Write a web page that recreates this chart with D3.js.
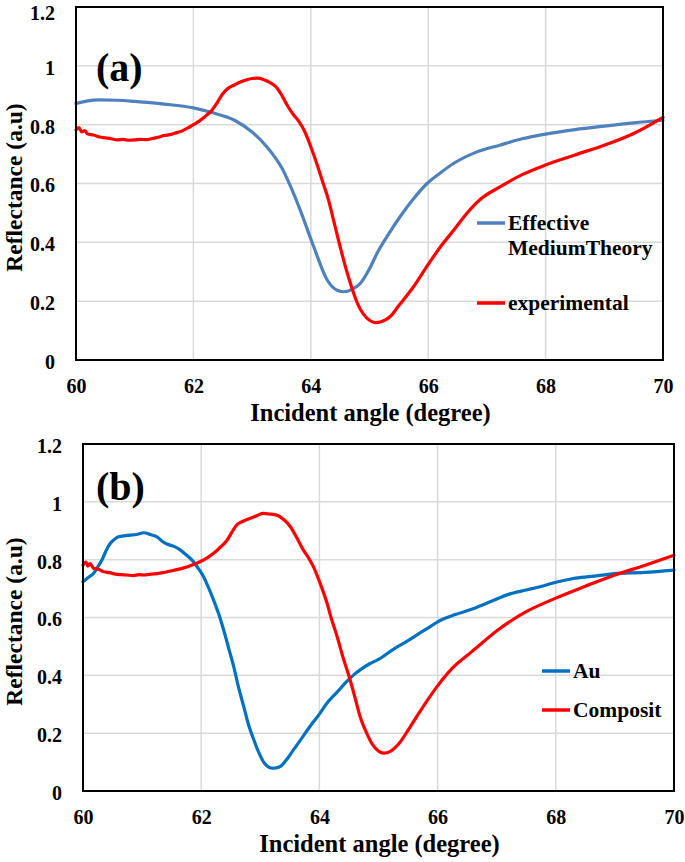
<!DOCTYPE html>
<html><head><meta charset="utf-8">
<script src="https://cdn.jsdelivr.net/npm/d3@7"></script>
<style>body{margin:0;background:#fff}svg{display:block}text{font-family:"Liberation Serif","Times New Roman",serif;font-weight:bold;fill:#000}</style>
</head><body><svg id="c" width="685" height="862"></svg>
<script>
// ---- data ----
const xTicks = [60, 62, 64, 66, 68, 70];
const yTicks = [0, 0.2, 0.4, 0.6, 0.8, 1, 1.2];
const xTitle = "Incident angle (degree)";
const yTitle = "Reflectance (a.u)";

// Panel (a)
const emtAngle = [60.0,60.2,60.4,60.7,61.0,61.5,62.0,62.3,62.7,63.0,63.25,63.5,63.8,64.05,64.28,64.45,64.56,64.7,64.85,65.0,65.13,65.3,65.52,65.75,65.98,66.2,66.43,66.8,67.23,67.6,68.0,68.5,69.0,69.5,70.0];
const emtRefl  = [0.872,0.881,0.884,0.883,0.879,0.870,0.857,0.842,0.815,0.775,0.725,0.655,0.52,0.385,0.272,0.237,0.232,0.24,0.262,0.31,0.363,0.42,0.487,0.548,0.60,0.635,0.668,0.705,0.731,0.752,0.768,0.783,0.795,0.806,0.815];
const expAngle = [60.0,60.05,60.1,60.15,60.2,60.3,60.4,60.5,60.6,60.7,60.8,60.9,61.0,61.1,61.2,61.3,61.4,61.5,61.6,61.7,61.8,61.9,62.0,62.1,62.2,62.3,62.4,62.5,62.6,62.7,62.8,62.9,63.0,63.1,63.2,63.3,63.4,63.5,63.6,63.7,63.8,63.9,64.0,64.1,64.2,64.3,64.4,64.5,64.6,64.7,64.8,64.9,65.0,65.1,65.2,65.35,65.5,65.75,66.0,66.21,66.45,66.66,66.9,67.23,67.6,68.0,68.5,69.0,69.5,70.0];
const expRefl  = [0.782,0.79,0.775,0.78,0.768,0.765,0.758,0.755,0.752,0.748,0.75,0.747,0.748,0.75,0.749,0.753,0.757,0.763,0.766,0.772,0.778,0.788,0.80,0.812,0.828,0.845,0.873,0.905,0.925,0.935,0.945,0.952,0.957,0.958,0.953,0.944,0.93,0.902,0.865,0.835,0.81,0.775,0.725,0.669,0.607,0.545,0.465,0.385,0.31,0.245,0.19,0.155,0.135,0.127,0.13,0.147,0.185,0.249,0.325,0.385,0.445,0.499,0.548,0.589,0.63,0.663,0.697,0.73,0.77,0.825];

// Panel (b)
const auAngle = [60.0,60.1,60.18,60.25,60.32,60.4,60.46,60.53,60.6,60.8,60.9,61.03,61.15,61.25,61.35,61.42,61.55,61.65,61.75,61.87,61.95,62.04,62.12,62.21,62.3,62.38,62.47,62.55,62.63,62.72,62.8,62.89,62.97,63.05,63.12,63.2,63.27,63.34,63.45,63.56,63.7,63.84,64.0,64.13,64.3,64.46,64.6,64.69,64.85,65.0,65.25,65.5,65.69,65.85,66.0,66.3,66.6,66.9,67.2,67.5,67.8,68.0,68.3,68.6,69.0,69.5,70.0];
const auRefl  = [0.724,0.74,0.753,0.775,0.799,0.835,0.856,0.87,0.879,0.885,0.887,0.893,0.886,0.879,0.862,0.854,0.845,0.833,0.816,0.793,0.77,0.741,0.705,0.66,0.61,0.557,0.49,0.43,0.36,0.292,0.23,0.177,0.135,0.102,0.086,0.079,0.08,0.085,0.11,0.142,0.182,0.223,0.266,0.304,0.342,0.378,0.405,0.419,0.44,0.455,0.49,0.52,0.545,0.565,0.585,0.61,0.63,0.655,0.68,0.695,0.71,0.722,0.735,0.742,0.752,0.756,0.764];
const compAngle = [60.0,60.05,60.08,60.12,60.18,60.25,60.35,60.45,60.55,60.65,60.74,60.85,60.95,61.03,61.15,61.25,61.35,61.42,61.55,61.65,61.76,61.88,61.98,62.1,62.21,62.32,62.44,62.52,62.6,62.7,62.83,62.95,63.05,63.15,63.28,63.4,63.51,63.62,63.73,63.82,63.9,64.0,64.13,64.2,64.3,64.4,64.52,64.6,64.69,64.8,64.9,65.0,65.09,65.2,65.35,65.54,65.75,65.99,66.25,66.58,67.02,67.5,68.0,68.5,69.0,69.5,70.0];
const compRefl  = [0.781,0.792,0.778,0.786,0.77,0.768,0.758,0.755,0.75,0.748,0.747,0.745,0.748,0.747,0.75,0.752,0.755,0.758,0.764,0.768,0.775,0.784,0.793,0.806,0.822,0.842,0.868,0.895,0.92,0.932,0.943,0.953,0.96,0.958,0.954,0.938,0.914,0.875,0.833,0.805,0.775,0.725,0.649,0.598,0.534,0.462,0.384,0.325,0.257,0.2,0.16,0.138,0.131,0.137,0.165,0.223,0.29,0.361,0.425,0.482,0.557,0.62,0.667,0.708,0.747,0.78,0.815];

// ---- drawing ----
const svg = d3.select("#c");
const panels = [
  {label:"(a)", left:76, right:663, top:7, bottom:360, labelX:96, labelY:81, topTickShift:4,
   series:[{name:["Effective","MediumTheory"], x:emtAngle, y:emtRefl, color:"#4f81bd", legY:223},
           {name:["experimental"], x:expAngle, y:expRefl, color:"#ff0000", legY:303}],
   legX:477},
  {label:"(b)", left:83, right:674, top:444, bottom:791, labelX:96, labelY:500, topTickShift:0,
   series:[{name:["Au"], x:auAngle, y:auRefl, color:"#0070c0", legY:671},
           {name:["Composit"], x:compAngle, y:compRefl, color:"#ff0000", legY:710}],
   legX:542}
];

panels.forEach(p => {
  const x = d3.scaleLinear().domain([60,70]).range([p.left,p.right]);
  const y = d3.scaleLinear().domain([0,1.2]).range([p.bottom,p.top]);
  const g = svg.append("g");
  // grid
  g.selectAll(null).data(xTicks.slice(1,-1)).enter().append("line")
    .attr("x1",d=>x(d)).attr("x2",d=>x(d)).attr("y1",p.top).attr("y2",p.bottom)
    .attr("stroke","#d9d9d9").attr("stroke-width",1.5);
  g.selectAll(null).data(yTicks.slice(1,-1)).enter().append("line")
    .attr("y1",d=>y(d)).attr("y2",d=>y(d)).attr("x1",p.left).attr("x2",p.right)
    .attr("stroke","#d9d9d9").attr("stroke-width",1.5);
  // axes labels via d3 axes
  const ax = g.append("g").attr("transform",`translate(0,${p.bottom})`)
    .call(d3.axisBottom(x).tickValues(xTicks).tickSize(0).tickPadding(19).tickFormat(d3.format("d")));
  ax.select(".domain").remove();
  ax.selectAll("text").attr("font-size",20).attr("font-family","Liberation Serif").attr("font-weight","bold").attr("fill","#000");
  const ay = g.append("g").attr("transform",`translate(${p.left},2)`)
    .call(d3.axisLeft(y).tickValues(yTicks).tickSize(0).tickPadding(21).tickFormat(d=>d3.format("~g")(d)));
  ay.select(".domain").remove();
  ay.selectAll("text").attr("font-size",20).attr("font-family","Liberation Serif").attr("font-weight","bold").attr("fill","#000")
    .attr("y", d => d === 1.2 ? p.topTickShift : 0);
  // series
  const line = d3.line().x(d=>x(d[0])).y(d=>y(d[1])).curve(d3.curveMonotoneX);
  p.series.forEach(s => {
    const pts = s.x.map((v,i)=>[v,s.y[i]]);
    g.append("path").attr("d",line(pts)).attr("fill","none").attr("stroke",s.color)
      .attr("stroke-width",3.2).attr("stroke-linejoin","round").attr("stroke-linecap","round");
  });
  // border
  g.append("rect").attr("x",p.left).attr("y",p.top).attr("width",p.right-p.left).attr("height",p.bottom-p.top)
    .attr("fill","none").attr("stroke","#000").attr("stroke-width",2);
  // legend
  p.series.forEach(s => {
    g.append("line").attr("x1",p.legX).attr("x2",p.legX+28).attr("y1",s.legY).attr("y2",s.legY)
      .attr("stroke",s.color).attr("stroke-width",3.5);
    s.name.forEach((t,i)=>{
      g.append("text").attr("x",p.legX+31).attr("y",s.legY+7+i*25).attr("font-size",21.5).text(t);
    });
  });
  // panel label
  g.append("text").attr("x",p.labelX).attr("y",p.labelY).attr("font-size",40).text(p.label);
  // titles
  g.append("text").attr("x",(p.left+p.right)/2+1).attr("y",p.bottom+61).attr("text-anchor","middle")
    .attr("font-size",24.5).text(xTitle);
  g.append("text").attr("transform",`translate(22,${(p.top+p.bottom)/2+4}) rotate(-90)`)
    .attr("text-anchor","middle").attr("font-size",23.5).text(yTitle);
});
</script></body></html>
